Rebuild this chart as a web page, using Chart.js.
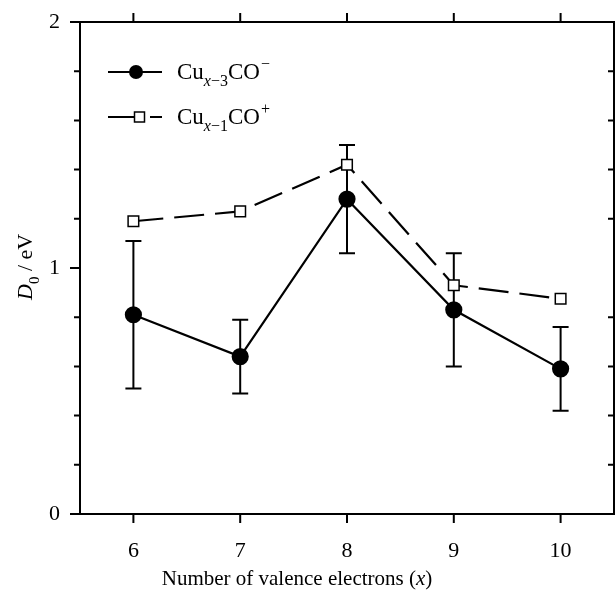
<!DOCTYPE html>
<html><head><meta charset="utf-8">
<script src="https://cdn.jsdelivr.net/npm/chart.js@4/dist/chart.umd.min.js"></script>
<style>html,body{margin:0;padding:0;background:#fff;}</style>
</head><body>
<canvas id="c" width="616" height="597"></canvas>
<script>
// ---- data ----
const xCategories = [6, 7, 8, 9, 10];
const anionD0   = [0.81, 0.64, 1.28, 0.83, 0.59];   // Cu(x-3)CO-
const anionErr  = [0.30, 0.15, 0.22, 0.23, 0.17];
const cationD0  = [1.19, 1.23, 1.42, 0.93, 0.875];  // Cu(x-1)CO+
const yMajorTicks = [0, 1, 2];
const yMinorTicks = [0.2, 0.4, 0.6, 0.8, 1.2, 1.4, 1.6, 1.8];
const xTitleParts = [['Number of valence electrons (', ''], ['x', 'italic '], [')', '']];
const anionLabel  = {base: 'Cu', subVar: 'x', subRest: '−3', main: 'CO', sup: '−'};
const cationLabel = {base: 'Cu', subVar: 'x', subRest: '−1', main: 'CO', sup: '+'};

const SERIF = '"Liberation Serif", "Times New Roman", serif';

const framePlugin = {
  id: 'frame',
  beforeDatasetsDraw(chart) {
    const ctx = chart.ctx, xs = chart.scales.x, ys = chart.scales.y;
    ctx.save();
    ctx.strokeStyle = '#000'; ctx.lineWidth = 2;
    xCategories.forEach((xv, i) => {
      const px = xs.getPixelForValue(xv);
      const top = ys.getPixelForValue(anionD0[i] + anionErr[i]);
      const bot = ys.getPixelForValue(anionD0[i] - anionErr[i]);
      ctx.beginPath();
      ctx.moveTo(px, top); ctx.lineTo(px, bot);
      ctx.moveTo(px - 8, top); ctx.lineTo(px + 8, top);
      ctx.moveTo(px - 8, bot); ctx.lineTo(px + 8, bot);
      ctx.stroke();
    });
    ctx.restore();
  },
  afterDraw(chart) {
    const ctx = chart.ctx, a = chart.chartArea, xs = chart.scales.x, ys = chart.scales.y;
    ctx.save();
    ctx.strokeStyle = '#000'; ctx.lineWidth = 2;
    ctx.strokeRect(a.left, a.top, a.right - a.left, a.bottom - a.top);
    ctx.beginPath();
    yMajorTicks.forEach(v => { const py = ys.getPixelForValue(v); ctx.moveTo(a.left - 10, py); ctx.lineTo(a.left, py); });
    yMinorTicks.forEach(v => { const py = ys.getPixelForValue(v); ctx.moveTo(a.left - 6, py); ctx.lineTo(a.left, py);
                               ctx.moveTo(a.right - 6, py); ctx.lineTo(a.right, py); });
    xCategories.forEach(v => { const px = xs.getPixelForValue(v);
      ctx.moveTo(px, a.bottom); ctx.lineTo(px, a.bottom + 9);
      ctx.moveTo(px, a.top - 9); ctx.lineTo(px, a.top); });
    ctx.stroke();

    // x-axis title with italic x
    ctx.fillStyle = '#000';
    ctx.textBaseline = 'alphabetic'; ctx.textAlign = 'left';
    let total = 0;
    xTitleParts.forEach(([t, st]) => { ctx.font = st + '21px ' + SERIF; total += ctx.measureText(t).width; });
    let tx = 297 - total / 2;
    xTitleParts.forEach(([t, st]) => { ctx.font = st + '21px ' + SERIF; ctx.fillText(t, tx, 585); tx += ctx.measureText(t).width; });

    // y-axis title: D0 / eV (rotated)
    ctx.save();
    ctx.translate(32, 300);
    ctx.rotate(-Math.PI / 2);
    let x = 0;
    ctx.font = 'italic 22px ' + SERIF; ctx.fillText('D', x, 0); x += ctx.measureText('D').width;
    ctx.font = '15px ' + SERIF; ctx.fillText('0', x, 7); x += ctx.measureText('0').width;
    ctx.font = '22px ' + SERIF; ctx.fillText(' / eV', x, 0);
    ctx.restore();
    ctx.restore();

    // legend
    ctx.save();
    ctx.strokeStyle = '#000'; ctx.fillStyle = '#000'; ctx.lineWidth = 2.2;
    let y1 = 72;
    ctx.beginPath(); ctx.moveTo(108, y1); ctx.lineTo(162, y1); ctx.stroke();
    ctx.beginPath(); ctx.arc(136, y1, 7, 0, Math.PI * 2); ctx.fill();
    drawLabel(ctx, anionLabel, 177, y1 + 7);
    let y2 = 117;
    ctx.beginPath(); ctx.moveTo(108, y2); ctx.lineTo(134, y2); ctx.moveTo(150, y2); ctx.lineTo(162, y2); ctx.stroke();
    ctx.lineWidth = 1.5; ctx.fillStyle = '#fff';
    ctx.beginPath(); ctx.rect(134.5, y2 - 5, 10, 10); ctx.fill(); ctx.stroke();
    ctx.fillStyle = '#000';
    drawLabel(ctx, cationLabel, 177, y2 + 7);
    ctx.restore();
  }
};

function drawLabel(ctx, L, x, y) {
  ctx.textBaseline = 'alphabetic'; ctx.textAlign = 'left';
  ctx.font = '23px ' + SERIF; ctx.fillText(L.base, x, y); x += ctx.measureText(L.base).width;
  ctx.font = 'italic 16px ' + SERIF; ctx.fillText(L.subVar, x, y + 7); x += ctx.measureText(L.subVar).width;
  ctx.font = '16px ' + SERIF; ctx.fillText(L.subRest, x, y + 7); x += ctx.measureText(L.subRest).width;
  ctx.font = '23px ' + SERIF; ctx.fillText(L.main, x, y); x += ctx.measureText(L.main).width;
  ctx.font = '16px ' + SERIF; ctx.fillText(L.sup, x + 1, y - 10);
}

new Chart(document.getElementById('c'), {
  type: 'line',
  data: {
    datasets: [
      {
        label: 'Cu(x-3)CO-',
        data: xCategories.map((x, i) => ({x, y: anionD0[i]})),
        borderColor: '#000', borderWidth: 2.2,
        pointStyle: 'circle', pointRadius: 7.5, pointBackgroundColor: '#000', pointBorderColor: '#000',
        tension: 0
      },
      {
        label: 'Cu(x-1)CO+',
        data: xCategories.map((x, i) => ({x, y: cationD0[i]})),
        borderColor: '#000', borderWidth: 2.2, borderDash: [30, 11],
        pointStyle: 'rect', pointRadius: 7.5, pointBorderWidth: 1.5,
        pointBackgroundColor: '#fff', pointBorderColor: '#000',
        tension: 0
      }
    ]
  },
  options: {
    responsive: false, animation: false, devicePixelRatio: 1,
    layout: {autoPadding: false, padding: {top: 22, right: 2, left: 0, bottom: 0}},
    plugins: {legend: {display: false}, tooltip: {enabled: false}},
    scales: {
      x: {
        type: 'linear', min: 5.5, max: 10.5,
        afterBuildTicks: s => { s.ticks = xCategories.map(v => ({value: v})); },
        afterFit: s => { s.height = 83; s.paddingLeft = 0; s.paddingRight = 0; },
        grid: {display: false, drawTicks: false, tickLength: 0},
        border: {display: false},
        ticks: {color: '#000', font: {family: SERIF, size: 22}, padding: 24, maxRotation: 0},
        title: {display: false}
      },
      y: {
        type: 'linear', min: 0, max: 2,
        afterBuildTicks: s => { s.ticks = yMajorTicks.map(v => ({value: v})); },
        afterFit: s => { s.width = 80; s.paddingTop = 0; s.paddingBottom = 0; },
        grid: {display: false, drawTicks: false, tickLength: 0},
        border: {display: false},
        ticks: {color: '#000', font: {family: SERIF, size: 22}, padding: 20}
      }
    }
  },
  plugins: [framePlugin]
});
</script>
</body></html>
